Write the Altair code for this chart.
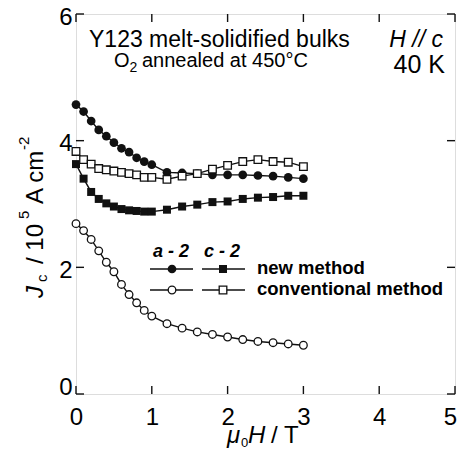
import altair as alt
import pandas as pd

# ---------------- data ----------------
field_T = [0.0, 0.1, 0.2, 0.3, 0.4, 0.5, 0.6, 0.7, 0.8, 0.9, 1.0,
           1.2, 1.4, 1.6, 1.8, 2.0, 2.2, 2.4, 2.6, 2.8, 3.0]
a2_new = [4.57, 4.46, 4.31, 4.17, 4.07, 3.97, 3.88, 3.82, 3.73, 3.67, 3.62,
          3.50, 3.49, 3.48, 3.46, 3.46, 3.46, 3.45, 3.44, 3.42, 3.40]
c2_new = [3.63, 3.40, 3.19, 3.08, 3.01, 2.96, 2.92, 2.90, 2.89, 2.88, 2.88,
          2.91, 2.96, 2.99, 3.03, 3.04, 3.08, 3.10, 3.11, 3.13, 3.13]
a2_conv = [2.69, 2.58, 2.44, 2.26, 2.08, 1.93, 1.73, 1.57, 1.44, 1.32, 1.23,
           1.11, 1.04, 0.98, 0.94, 0.90, 0.86, 0.83, 0.81, 0.79, 0.77]
c2_conv = [3.83, 3.70, 3.63, 3.56, 3.54, 3.52, 3.50, 3.48, 3.46, 3.42, 3.42,
           3.39, 3.44, 3.48, 3.55, 3.61, 3.67, 3.70, 3.67, 3.66, 3.59]
series_names = ["a2_new", "c2_new", "a2_conv", "c2_conv"]

x_ticks = [0, 1, 2, 3, 4, 5]
y_ticks = [0, 2, 4, 6]

# ---------------- layout ----------------
W, H = 379, 380
FONT = "Liberation Sans"
INK = "#111111"

df = pd.DataFrame({
    "H": field_T * 4,
    "Jc": a2_new + c2_new + a2_conv + c2_conv,
    "series": sum([[s] * len(field_T) for s in series_names], []),
})

xs = alt.Scale(domain=[0, 5], nice=False, zero=False)
ys = alt.Scale(domain=[0, 6], nice=False, zero=False)
common_axis = dict(title=None, grid=False, domain=False, ticks=False, tickSize=0,
                   labelFlush=False, labelOverlap=False, format="d",
                   labelFont=FONT, labelFontSize=24, labelColor="black")
X = alt.X("H:Q", scale=xs, axis=alt.Axis(
    values=x_ticks, labelPadding=11,
    labelOffset=alt.condition("datum.value == 5", alt.value(-5), alt.value(0)),
    **common_axis))
Y = alt.Y("Jc:Q", scale=ys, axis=alt.Axis(
    values=y_ticks, labelPadding=4,
    labelOffset=alt.condition("datum.value == 0", alt.value(-7), alt.value(3)),
    **common_axis))

dummy = pd.DataFrame({"k": [0]})


def txt(s, x, y, size, style="normal", weight="normal", align="left", angle=0):
    return alt.Chart(dummy).mark_text(
        text=s, align=align, baseline="alphabetic", font=FONT, fontSize=size,
        fontStyle=style, fontWeight=weight, angle=angle, color="black"
    ).encode(x=alt.value(x), y=alt.value(y))


# inward ticks
xt = pd.DataFrame({"H": x_ticks})
yt = pd.DataFrame({"Jc": y_ticks})
tick_style = dict(color=INK, strokeWidth=1.4)
ticks = [
    alt.Chart(xt).mark_rule(**tick_style).encode(x=X, y=alt.value(H), y2=alt.value(H - 8)),
    alt.Chart(xt).mark_rule(**tick_style).encode(x=X, y=alt.value(0), y2=alt.value(8)),
    alt.Chart(yt).mark_rule(**tick_style).encode(y=Y, x=alt.value(0), x2=alt.value(8)),
    alt.Chart(yt).mark_rule(**tick_style).encode(y=Y, x=alt.value(W), x2=alt.value(W - 8)),
]

base = alt.Chart(df)
lines = base.mark_line(color=INK, strokeWidth=1.4).encode(x=X, y=Y, detail="series:N")


def pts(name, shape, filled, size):
    if filled:
        m = base.mark_point(shape=shape, filled=True, color=INK, size=size, opacity=1)
    else:
        m = base.mark_point(shape=shape, filled=True, fill="white", stroke=INK,
                            strokeWidth=1.3, size=size, opacity=1)
    return m.encode(x=X, y=Y).transform_filter(alt.datum.series == name)


points = [
    pts("a2_conv", "circle", False, 58),
    pts("c2_new", "square", True, 64),
    pts("a2_new", "circle", True, 76),
    pts("c2_conv", "square", False, 58),
]

# legend (custom)
def seg(x1, x2, y):
    return alt.Chart(dummy).mark_rule(color=INK, strokeWidth=1.4).encode(
        x=alt.value(x1), x2=alt.value(x2), y=alt.value(y))


def lpt(x, y, shape, filled, size):
    if filled:
        m = alt.Chart(dummy).mark_point(shape=shape, filled=True, color=INK, size=size, opacity=1)
    else:
        m = alt.Chart(dummy).mark_point(shape=shape, filled=True, fill="white", stroke=INK,
                                        strokeWidth=1.3, size=size, opacity=1)
    return m.encode(x=alt.value(x), y=alt.value(y))


legend = [
    seg(74, 117, 255), seg(126, 169, 255), seg(74, 117, 276), seg(126, 169, 276),
    lpt(96, 255, "circle", True, 76), lpt(147, 255, "square", True, 64),
    lpt(96, 276, "circle", False, 58), lpt(147, 276, "square", False, 58),
    txt("a - 2", 95, 243, 18, style="italic", weight="bold", align="center"),
    txt("c - 2", 146, 243, 18, style="italic", weight="bold", align="center"),
    txt("new method", 181, 260, 18.5, weight="bold"),
    txt("conventional method", 181, 281, 18.5, weight="bold"),
]

annotations = [
    txt("Y123 melt-solidified bulks", 13, 33, 23),
    txt("O", 38, 53, 20),
    txt("2", 53.5, 58, 14),
    txt("annealed at 450°C", 66, 53, 20),
    txt("H // c", 367, 33, 23, style="italic", align="right"),
    txt("40 K", 369, 59, 25, align="right"),
    # x-axis title: mu0 H / T
    txt("μ", 151, 429, 24, style="italic"),
    txt("0", 165, 433, 13),
    txt("H", 172, 429, 24, style="italic"),
    txt("/ T", 195, 429, 24),
    # y-axis title: Jc / 10^5 A cm^-2 (rotated)
    txt("J", -33, 284, 24, style="italic", angle=270),
    txt("c", -29, 268, 15, angle=270),
    txt("/ 10", -33, 250, 24, angle=270),
    txt("5", -47, 205, 15, angle=270),
    txt("A cm", -33, 190, 24, angle=270),
    txt("-2", -47, 136, 15, angle=270),
]

chart = alt.layer(
    *ticks, lines, *points, *legend, *annotations
).properties(
    width=W, height=H,
    autosize=alt.AutoSizeParams(type="none"),
    padding={"left": 68, "top": 6, "right": 2, "bottom": 56},
).configure_view(
    stroke=INK, strokeWidth=1.6, fill="white"
).configure(background="white")

chart.save("out.html", embed_options={"renderer": "svg", "actions": False})
